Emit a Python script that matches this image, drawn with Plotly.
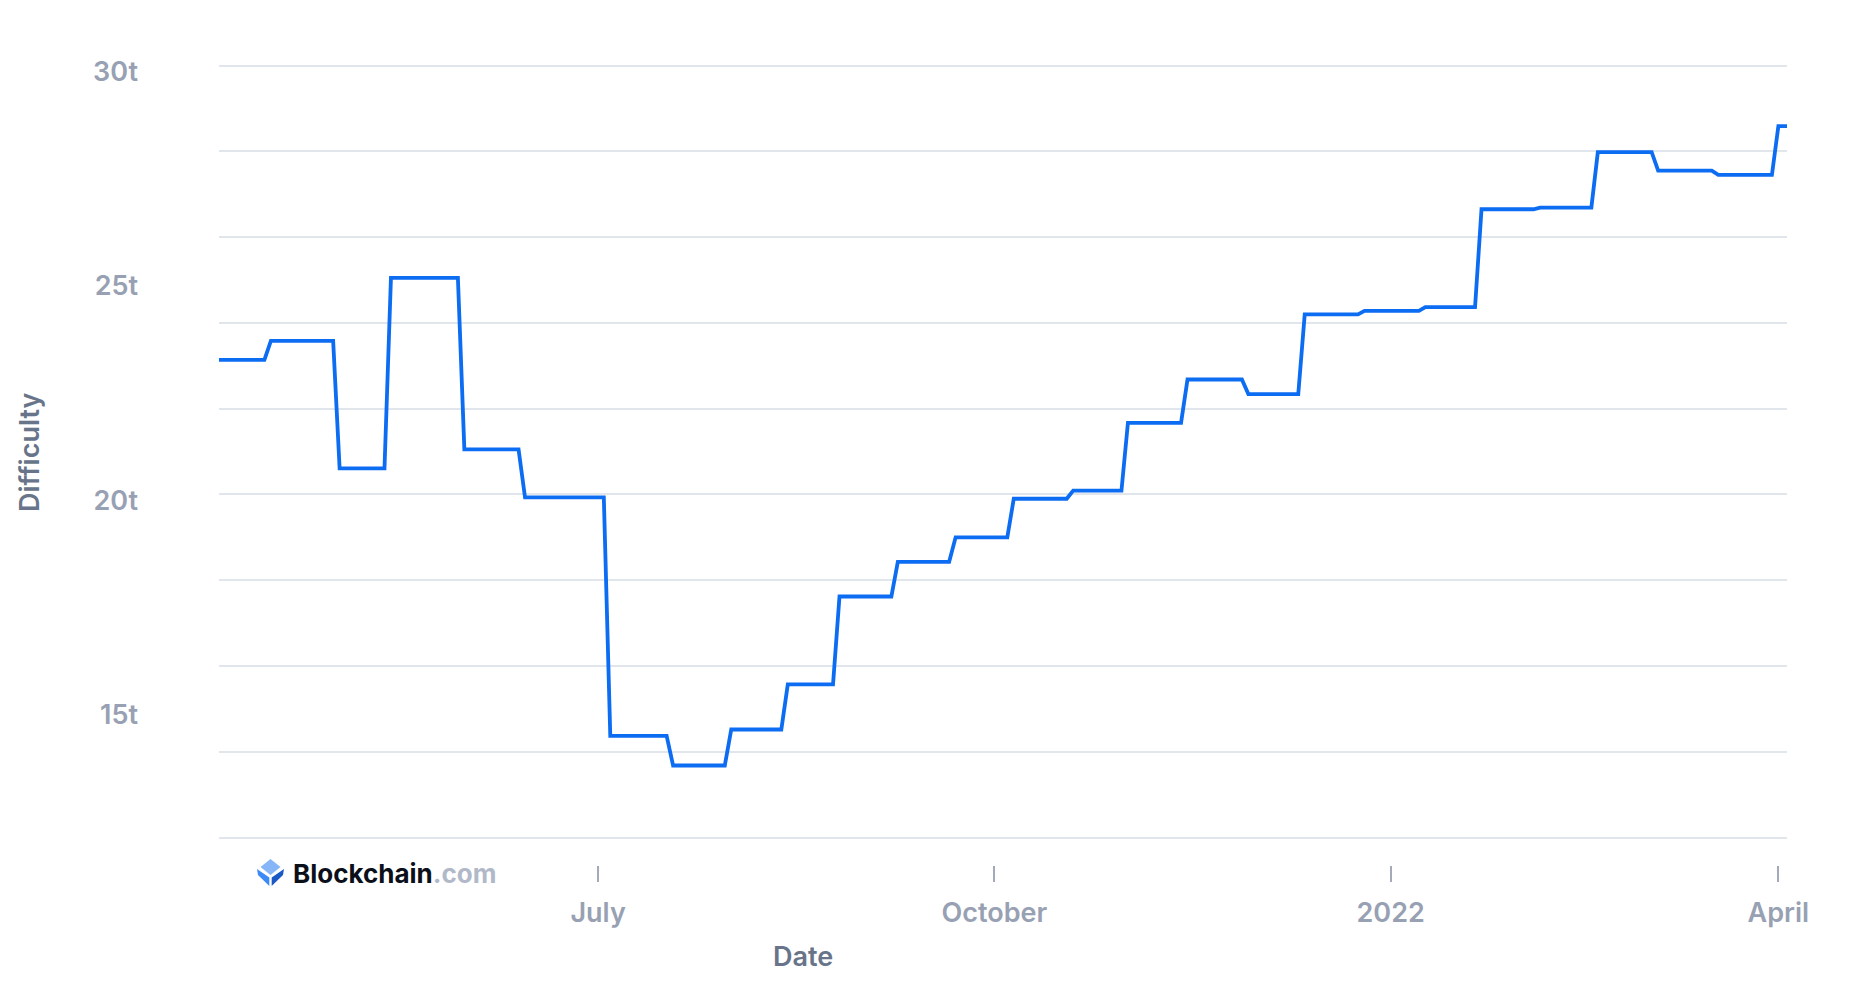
import plotly.graph_objects as go
from datetime import datetime, timedelta

# ---------------- data ----------------
series_start = "2021-04-04"
series_end = "2022-04-03"

# moments at which the difficulty changed (midpoint of each visible step)
adjustment_times = [
    "2021-04-15 07:00", "2021-05-01 06:00", "2021-05-13 04:00", "2021-05-30 05:00",
    "2021-06-13 07:00", "2021-07-03 02:00", "2021-07-17 16:00", "2021-07-31 04:00",
    "2021-08-13 07:00", "2021-08-25 07:00", "2021-09-07 20:00", "2021-09-21 06:00",
    "2021-10-04 18:00", "2021-10-18 13:00", "2021-10-31 06:00", "2021-11-14 02:00",
    "2021-11-28 05:00", "2021-12-11 07:00", "2021-12-25 04:00", "2022-01-08 07:00",
    "2022-01-21 08:00", "2022-02-03 22:00", "2022-02-17 08:00", "2022-03-03 08:00",
    "2022-03-17 07:00", "2022-03-31 06:00",
]
# difficulty (in trillions) of each plateau
difficulty_t = [
    23.14, 23.58, 20.61, 25.05, 21.05, 19.93, 14.37, 13.68, 14.52, 15.57,
    17.62, 18.43, 19.00, 19.90, 20.09, 21.67, 22.68, 22.34, 24.20, 24.28,
    24.37, 26.65, 26.69, 27.98, 27.55, 27.45, 28.59,
]

x_tick_dates = ["2021-07-01", "2021-10-01", "2022-01-01", "2022-04-01"]
x_tick_labels = ["July", "October", "2022", "April"]
y_label_vals = [15, 20, 25, 30]
y_label_text = ["15t", "20t", "25t", "30t"]
y_grid_vals = [12, 14, 16, 18, 20, 22, 24, 26, 28, 30]

# ---------------- build the step line ----------------
ramp = timedelta(hours=18)
bounds = ([datetime.fromisoformat(series_start)]
          + [datetime.fromisoformat(t) for t in adjustment_times]
          + [datetime.fromisoformat(series_end)])
xs, ys = [], []
last = len(difficulty_t) - 1
for k, v in enumerate(difficulty_t):
    a = bounds[k] if k == 0 else bounds[k] + ramp
    b = bounds[k + 1] if k == last else bounds[k + 1] - ramp
    xs += [a, b]
    ys += [v, v]

LINE = "#0C6CF2"
TICK_COLOR = "#98A1B3"
TITLE_COLOR = "#677489"
GRID = "#E1E5EC"
Y_RANGE = [11.36, 30.2]

fig = go.Figure()
fig.add_trace(go.Scatter(
    x=xs, y=ys, mode="lines",
    line=dict(color=LINE, width=3.8),
    hoverinfo="skip", showlegend=False,
))
# invisible companion trace so that the label axis (y2) is drawn
fig.add_trace(go.Scatter(
    x=[xs[0]], y=[ys[0]], yaxis="y2", mode="none",
    hoverinfo="skip", showlegend=False,
))

tick_font = dict(family="Inter", size=27, color=TICK_COLOR, weight=600)

fig.update_layout(
    width=1850, height=981,
    margin=dict(l=219, r=63, t=57, b=116),
    paper_bgcolor="white", plot_bgcolor="white",
    showlegend=False,
    xaxis=dict(
        type="date",
        range=[series_start, series_end],
        tickmode="array", tickvals=x_tick_dates, ticktext=x_tick_labels,
        ticks="outside", ticklen=16, tickwidth=1.5, tickcolor="#A3ABBB",
        ticklabelstandoff=8,
        showgrid=False, showline=False, zeroline=False,
        tickfont=tick_font,
    ),
    yaxis=dict(
        range=Y_RANGE,
        tickmode="array", tickvals=y_grid_vals,
        showticklabels=False, ticks="",
        showgrid=True, gridcolor=GRID, gridwidth=2,
        zeroline=False, showline=False,
    ),
    yaxis2=dict(
        overlaying="y", anchor="x", side="left",
        range=Y_RANGE,
        tickmode="array", tickvals=y_label_vals, ticktext=y_label_text,
        showgrid=False, zeroline=False, showline=False, ticks="",
        ticklabelstandoff=80, ticklabelshift=6,
        tickfont=tick_font,
    ),
    annotations=[
        dict(text="Difficulty", textangle=-90,
             x=(29 - 219) / 1568, y=(865 - 452) / 808,
             xref="paper", yref="paper", showarrow=False,
             xanchor="center", yanchor="middle",
             font=dict(family="Inter", size=27, color=TITLE_COLOR, weight=600)),
        dict(text="Date",
             x=(803 - 219) / 1568, y=-(956 - 865) / 808,
             xref="paper", yref="paper", showarrow=False,
             xanchor="center", yanchor="middle",
             font=dict(family="Inter", size=27, color=TITLE_COLOR, weight=600)),
        dict(text="Blockchain<span style='color:#B1B9C9'>.com</span>",
             x=(291 - 219) / 1568, y=-(873 - 865) / 808,
             xref="paper", yref="paper", showarrow=False,
             xanchor="left", yanchor="middle",
             font=dict(family="Inter", size=26, color="#0B0F1A", weight=700)),
    ],
)

# logo icon (decoration) drawn in pixel units around an anchor point
icon_anchor = dict(xref="paper", yref="paper", xsizemode="pixel", ysizemode="pixel",
                   xanchor=(270.5 - 219) / 1568, yanchor=-(872.5 - 865) / 808,
                   layer="above", line=dict(width=0))
fig.add_shape(type="path", path="M 0,13.5 L 10,5.5 L 0,-2.5 L -10,5.5 Z",
              fillcolor="#86B6F8", **icon_anchor)
fig.add_shape(type="path", path="M -13.5,3.5 L -1.2,-5 L -1.2,-13.5 L -12.5,-2.5 Z",
              fillcolor="#3D89F5", **icon_anchor)
fig.add_shape(type="path", path="M 13.5,3.5 L 1.2,-5 L 1.2,-13.5 L 12.5,-2.5 Z",
              fillcolor="#1B5AC4", **icon_anchor)

fig.write_html("out.html", config={"displayModeBar": False},
               post_script="document.body.style.margin='0';document.body.style.overflow='hidden';")
